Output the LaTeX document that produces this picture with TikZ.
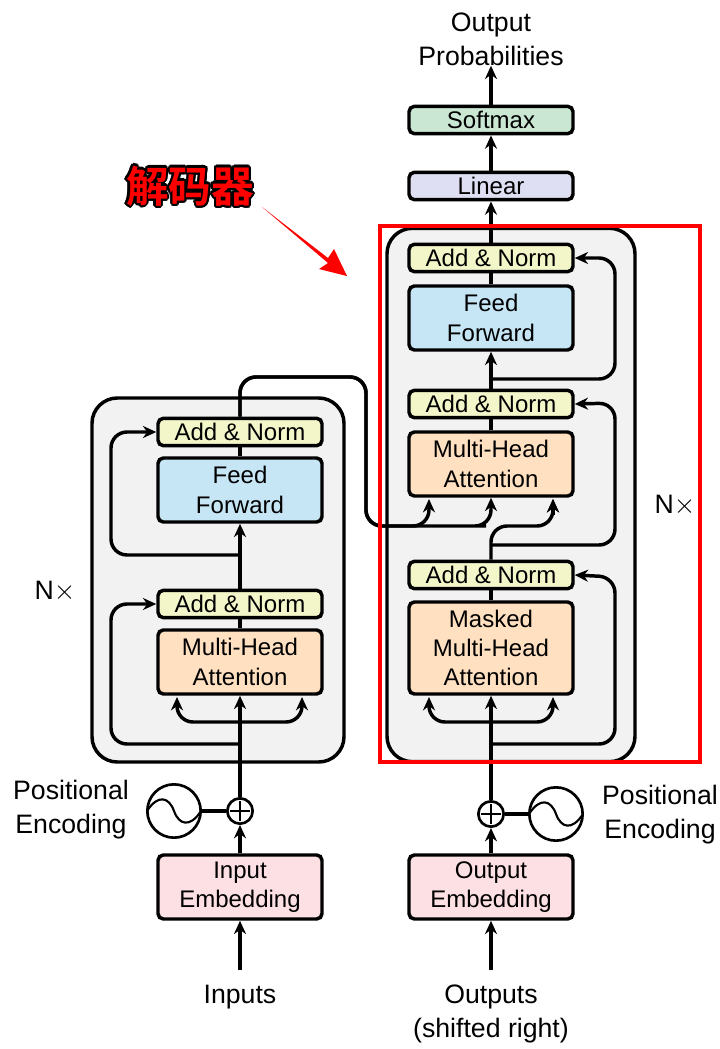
\documentclass[tikz,border=0pt]{standalone}
\usepackage{fontspec}
\usepackage[copies]{contour}
\setmainfont{Liberation Sans}
\newfontfamily\cjk{Noto Sans CJK SC Bold}
\usetikzlibrary{arrows.meta, positioning}
\definecolor{addnorm}{HTML}{F3F6C9}
\definecolor{feedfwd}{HTML}{C6E6F5}
\definecolor{attn}{HTML}{FFE1C2}
\definecolor{embed}{HTML}{FCE0E4}
\definecolor{softmx}{HTML}{C9E7D2}
\definecolor{lineart}{HTML}{DEDFF2}
\definecolor{stackbg}{HTML}{F2F2F2}
\contourlength{1.6pt}

\begin{document}
\begin{tikzpicture}[x=0.75pt, y=-0.75pt, >={Stealth[length=10pt, width=9pt]},
      blk/.style={draw, line width=2.6pt, rounded corners=4pt, minimum width=123pt,
                  inner sep=0pt, align=center, font=\fontsize{18}{22}\selectfont},
      thin1/.style={blk, minimum height=20.5pt},
      thin2/.style={blk, minimum height=48pt},
      thin3/.style={blk, minimum height=69pt},
      stack/.style={draw, line width=2.6pt, rounded corners=19pt, fill=stackbg, inner sep=0pt},
      arr/.style={->, line width=2.6pt},
      ln/.style={line width=2.6pt},
      loop/.style={->, line width=2.6pt, rounded corners=12pt},
      lbl/.style={align=center, inner sep=0pt, font=\fontsize{20}{25.5}\selectfont},
      sumc/.style={circle, draw, line width=2pt, minimum size=19pt, inner sep=0pt, fill=white,
                   path picture={\draw[line width=1.5pt, shift={(path picture bounding box.center)}]
                     (-10,0) -- (10,0) (0,-10) -- (0,10);}},
      wave/.style={circle, draw, line width=2pt, minimum size=40pt, inner sep=0pt, fill=white,
                   path picture={\draw[line width=1.6pt, shift={(path picture bounding box.center)}]
                     (-27,0) .. controls (-16,-17) and (-5,-14) .. (0,0)
                     .. controls (5,14) and (16,17) .. (27,0);}}]

    \useasboundingbox (0,0) rectangle (719,1049);

    % N x stacks behind everything
    \node[stack, minimum width=186pt, minimum height=400pt] (decStack) at (511,495) {};
    \node[stack, minimum width=189pt, minimum height=273pt] (encStack) at (218,580) {};

    % Encoder
    \node[thin2, fill=embed] (inEmb) at (240,887) {Input\\Embedding};
    \node[thin2, fill=attn] (encAttn) at (240,662) {Multi-Head\\Attention};
    \node[thin1, fill=addnorm] (encNormA) at (240,604) {Add \& Norm};
    \node[thin2, fill=feedfwd] (encFF) at (240,490) {Feed\\Forward};
    \node[thin1, fill=addnorm] (encNormB) at (240,432) {Add \& Norm};
    \node[sumc] (encSum) at (240,811) {};
    \node[wave] (encWave) at (174,811) {};

    % Decoder
    \node[thin2, fill=embed] (outEmb) at (491,887) {Output\\Embedding};
    \node[thin3, fill=attn] (decMask) at (491,648) {Masked\\Multi-Head\\Attention};
    \node[thin1, fill=addnorm] (decNormA) at (491,575) {Add \& Norm};
    \node[thin2, fill=attn] (decAttn) at (491,464) {Multi-Head\\Attention};
    \node[thin1, fill=addnorm] (decNormB) at (491,404) {Add \& Norm};
    \node[thin2, fill=feedfwd] (decFF) at (491,318) {Feed\\Forward};
    \node[thin1, fill=addnorm] (decNormC) at (491,258) {Add \& Norm};
    \node[thin1, fill=lineart] (linear) at (491,186) {Linear};
    \node[thin1, fill=softmx] (softmax) at (491,120) {Softmax};
    \node[sumc] (decSum) at (491,814) {};
    \node[wave] (decWave) at (556,814) {};

    % Outside labels
    \node[lbl] (outProb) at (491,39) {Output\\Probabilities};
    \node[lbl] (inLbl) at (240,997) {Inputs};
    \node[lbl] (outLbl) at (491,1014) {Outputs\\(shifted right)};
    \node[lbl] (encPos) at (71,810) {Positional\\Encoding};
    \node[lbl] (decPos) at (660,815) {Positional\\Encoding};
    \node[lbl] (encN) at (55,591) {N$\times$};
    \node[lbl] (decN) at (675,505) {N$\times$};

    % Encoder connectors
    \coordinate (inTail) at (240,970);
    \draw[arr] (inTail) -- (inEmb.south);
    \draw[arr] (inEmb.north) -- (encSum.south);
    \draw[ln] (encWave.east) -- (encSum.west);
    \draw[arr] (encSum.north) -- (encAttn.south);
    \draw[ln] (encAttn.north) -- (encNormA.south);
    \draw[arr] (encNormA.north) -- (encFF.south);
    \draw[ln] (encFF.north) -- (encNormB.south);
    \draw[loop] (240,722) -| (177,697);
    \draw[loop] (240,722) -| (302,697);
    \draw[loop] (240,744) -| (111,604) -- (encNormA.west);
    \draw[loop] (240,555) -| (111,432) -- (encNormB.west);

    % Decoder connectors
    \coordinate (outTail) at (491,970);
    \draw[arr] (outTail) -- (outEmb.south);
    \draw[arr] (outEmb.north) -- (decSum.south);
    \draw[ln] (decWave.west) -- (decSum.east);
    \draw[arr] (decSum.north) -- (decMask.south);
    \draw[ln] (decMask.north) -- (decNormA.south);
    \draw[ln] (decAttn.north) -- (decNormB.south);
    \draw[arr] (decNormB.north) -- (decFF.south);
    \draw[ln] (decFF.north) -- (decNormC.south);
    \draw[arr] (decNormC.north) -- (linear.south);
    \draw[arr] (linear.north) -- (softmax.south);
    \draw[arr] (softmax.north) -- (outProb.south);
    \draw[loop] (491,722) -| (429,697);
    \draw[loop] (491,722) -| (553,697);
    \draw[loop] (491,744) -| (615,577) -- (decNormA.east);
    \draw[loop] (491,545) -| (615,403) -- (decNormB.east);
    \draw[loop] (491,379) -| (615,258) -- (decNormC.east);

    % Encoder output into the decoder attention
    \draw[loop] (encNormB.north) |- (366,377) |- (470,526) -| (decAttn.south);
    \draw[loop] (encNormB.north) |- (366,377) |- (400,526) -| (429,499);
    \draw[loop] (decNormA.north) |- (553,526) -- (553,499);
    \draw[arr] (553,515) -- (553,499);

    % Red callout
    \node[text=red, inner sep=0pt, font=\cjk\fontsize{32}{32}\selectfont] (callout) at (190,187)
      {\contour{black}{\textcolor{red}{解码器}}};
    \fill[red] (262,207) -- (328,258) -- (334,249) -- (347,276) -- (319,269) -- (328,263) -- cycle;
    \node[draw=red, line width=3pt, inner sep=0pt, minimum width=240pt, minimum height=402pt] (decBox) at (539.5,494) {};

\end{tikzpicture}
\end{document}
